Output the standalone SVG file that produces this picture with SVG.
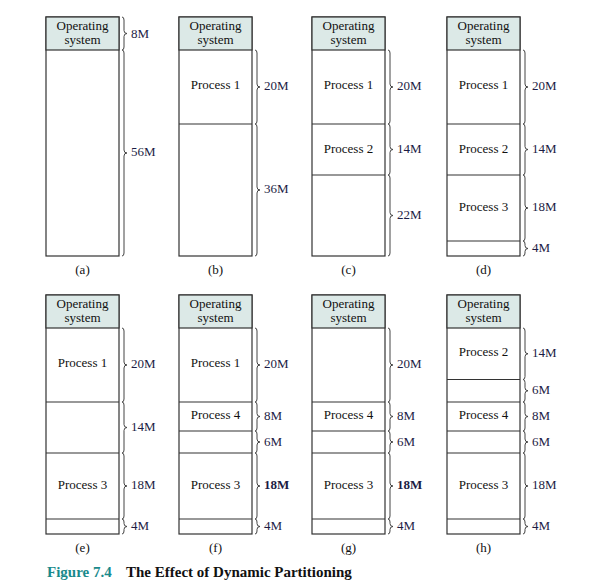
<svg xmlns="http://www.w3.org/2000/svg" width="609" height="588" viewBox="0 0 609 588">
<style>
.box{fill:#fff;stroke:#333;stroke-width:1.2}
.os{fill:#dce9e7;stroke:#333;stroke-width:1.2}
.div{stroke:#333;stroke-width:1.2}
.t{font-family:"Liberation Serif","Times New Roman",serif;font-size:13px;fill:#111;text-anchor:middle}
.lab{font-family:"Liberation Serif","Times New Roman",serif;font-size:13px;fill:#1c1c44}
.b{font-weight:bold}
.br{fill:none;stroke:#444;stroke-width:1}
.cap{font-family:"Liberation Serif","Times New Roman",serif;font-size:15px;font-weight:bold}
</style>
<rect width="609" height="588" fill="#fff"/>

<g id="panel-a">
<rect class="box" x="46" y="17" width="73" height="239"/>
<rect class="os" x="46" y="17" width="73" height="33"/>
<text class="t" x="82.5" y="30">Operating</text><text class="t" x="82.5" y="44">system</text>
<text class="t" x="82.5" y="274">(a)</text>
</g>
<g id="panel-b">
<rect class="box" x="179" y="17" width="73" height="239"/>
<rect class="os" x="179" y="17" width="73" height="33"/>
<text class="t" x="215.5" y="30">Operating</text><text class="t" x="215.5" y="44">system</text>
<line class="div" x1="179" y1="124" x2="252" y2="124"/>
<text class="t" x="215.5" y="89">Process 1</text>
<text class="t" x="215.5" y="274">(b)</text>
</g>
<g id="panel-c">
<rect class="box" x="312" y="17" width="73" height="239"/>
<rect class="os" x="312" y="17" width="73" height="33"/>
<text class="t" x="348.5" y="30">Operating</text><text class="t" x="348.5" y="44">system</text>
<line class="div" x1="312" y1="124" x2="385" y2="124"/>
<line class="div" x1="312" y1="175" x2="385" y2="175"/>
<text class="t" x="348.5" y="89">Process 1</text>
<text class="t" x="348.5" y="153">Process 2</text>
<text class="t" x="348.5" y="274">(c)</text>
</g>
<g id="panel-d">
<rect class="box" x="447" y="17" width="73" height="239"/>
<rect class="os" x="447" y="17" width="73" height="33"/>
<text class="t" x="483.5" y="30">Operating</text><text class="t" x="483.5" y="44">system</text>
<line class="div" x1="447" y1="124" x2="520" y2="124"/>
<line class="div" x1="447" y1="175" x2="520" y2="175"/>
<line class="div" x1="447" y1="241" x2="520" y2="241"/>
<text class="t" x="483.5" y="89">Process 1</text>
<text class="t" x="483.5" y="153">Process 2</text>
<text class="t" x="483.5" y="211">Process 3</text>
<text class="t" x="483.5" y="274">(d)</text>
</g>

<g id="panel-e">
<rect class="box" x="46" y="295" width="73" height="239"/>
<rect class="os" x="46" y="295" width="73" height="33"/>
<text class="t" x="82.5" y="308">Operating</text><text class="t" x="82.5" y="322">system</text>
<line class="div" x1="46" y1="402" x2="119" y2="402"/>
<line class="div" x1="46" y1="453" x2="119" y2="453"/>
<line class="div" x1="46" y1="519" x2="119" y2="519"/>
<text class="t" x="82.5" y="367">Process 1</text>
<text class="t" x="82.5" y="489">Process 3</text>
<text class="t" x="82.5" y="552">(e)</text>
</g>
<g id="panel-f">
<rect class="box" x="179" y="295" width="73" height="239"/>
<rect class="os" x="179" y="295" width="73" height="33"/>
<text class="t" x="215.5" y="308">Operating</text><text class="t" x="215.5" y="322">system</text>
<line class="div" x1="179" y1="402" x2="252" y2="402"/>
<line class="div" x1="179" y1="431" x2="252" y2="431"/>
<line class="div" x1="179" y1="453" x2="252" y2="453"/>
<line class="div" x1="179" y1="519" x2="252" y2="519"/>
<text class="t" x="215.5" y="367">Process 1</text>
<text class="t" x="215.5" y="419">Process 4</text>
<text class="t" x="215.5" y="489">Process 3</text>
<text class="t" x="215.5" y="552">(f)</text>
</g>
<g id="panel-g">
<rect class="box" x="312" y="295" width="73" height="239"/>
<rect class="os" x="312" y="295" width="73" height="33"/>
<text class="t" x="348.5" y="308">Operating</text><text class="t" x="348.5" y="322">system</text>
<line class="div" x1="312" y1="402" x2="385" y2="402"/>
<line class="div" x1="312" y1="431" x2="385" y2="431"/>
<line class="div" x1="312" y1="453" x2="385" y2="453"/>
<line class="div" x1="312" y1="519" x2="385" y2="519"/>
<text class="t" x="348.5" y="419">Process 4</text>
<text class="t" x="348.5" y="489">Process 3</text>
<text class="t" x="348.5" y="552">(g)</text>
</g>
<g id="panel-h">
<rect class="box" x="447" y="295" width="73" height="239"/>
<rect class="os" x="447" y="295" width="73" height="33"/>
<text class="t" x="483.5" y="308">Operating</text><text class="t" x="483.5" y="322">system</text>
<line class="div" x1="447" y1="379.5" x2="520" y2="379.5"/>
<line class="div" x1="447" y1="402" x2="520" y2="402"/>
<line class="div" x1="447" y1="431" x2="520" y2="431"/>
<line class="div" x1="447" y1="453" x2="520" y2="453"/>
<line class="div" x1="447" y1="519" x2="520" y2="519"/>
<text class="t" x="483.5" y="356">Process 2</text>
<text class="t" x="483.5" y="419">Process 4</text>
<text class="t" x="483.5" y="489">Process 3</text>
<text class="t" x="483.5" y="552">(h)</text>
</g>

<g id="braces" class="br">
<path d="M122 17q2 0 2 3V30.5q0 3 3 3q-3 0-3 3V47q0 3-2 3"/>
<path d="M122 50q2 0 2 3V150q0 3 3 3q-3 0-3 3V253q0 3-2 3"/>
<path d="M255 50q2 0 2 3V84q0 3 3 3q-3 0-3 3V121q0 3-2 3"/>
<path d="M255 124q2 0 2 3V187q0 3 3 3q-3 0-3 3V253q0 3-2 3"/>
<path d="M388 50q2 0 2 3V84q0 3 3 3q-3 0-3 3V121q0 3-2 3"/>
<path d="M388 124q2 0 2 3V146.5q0 3 3 3q-3 0-3 3V172q0 3-2 3"/>
<path d="M388 175q2 0 2 3V212.5q0 3 3 3q-3 0-3 3V253q0 3-2 3"/>
<path d="M523 50q2 0 2 3V84q0 3 3 3q-3 0-3 3V121q0 3-2 3"/>
<path d="M523 124q2 0 2 3V146.5q0 3 3 3q-3 0-3 3V172q0 3-2 3"/>
<path d="M523 175q2 0 2 3V205q0 3 3 3q-3 0-3 3V238q0 3-2 3"/>
<path d="M523 241q2 0 2 3V245.5q0 3 3 3q-3 0-3 3V253q0 3-2 3"/>

<path d="M122 328q2 0 2 3V362q0 3 3 3q-3 0-3 3V399q0 3-2 3"/>
<path d="M122 402q2 0 2 3V424.5q0 3 3 3q-3 0-3 3V450q0 3-2 3"/>
<path d="M122 453q2 0 2 3V483q0 3 3 3q-3 0-3 3V516q0 3-2 3"/>
<path d="M122 519q2 0 2 3V523.5q0 3 3 3q-3 0-3 3V531q0 3-2 3"/>

<path d="M255 328q2 0 2 3V362q0 3 3 3q-3 0-3 3V399q0 3-2 3"/>
<path d="M255 402q2 0 2 3V413.5q0 3 3 3q-3 0-3 3V428q0 3-2 3"/>
<path d="M255 431q2 0 2 3V439q0 3 3 3q-3 0-3 3V450q0 3-2 3"/>
<path d="M255 453q2 0 2 3V483q0 3 3 3q-3 0-3 3V516q0 3-2 3"/>
<path d="M255 519q2 0 2 3V523.5q0 3 3 3q-3 0-3 3V531q0 3-2 3"/>

<path d="M388 328q2 0 2 3V362q0 3 3 3q-3 0-3 3V399q0 3-2 3"/>
<path d="M388 402q2 0 2 3V413.5q0 3 3 3q-3 0-3 3V428q0 3-2 3"/>
<path d="M388 431q2 0 2 3V439q0 3 3 3q-3 0-3 3V450q0 3-2 3"/>
<path d="M388 453q2 0 2 3V483q0 3 3 3q-3 0-3 3V516q0 3-2 3"/>
<path d="M388 519q2 0 2 3V523.5q0 3 3 3q-3 0-3 3V531q0 3-2 3"/>

<path d="M523 328q2 0 2 3V350.75q0 3 3 3q-3 0-3 3V376.5q0 3-2 3"/>
<path d="M523 379.5q2 0 2 3V387.75q0 3 3 3q-3 0-3 3V399q0 3-2 3"/>
<path d="M523 402q2 0 2 3V413.5q0 3 3 3q-3 0-3 3V428q0 3-2 3"/>
<path d="M523 431q2 0 2 3V439q0 3 3 3q-3 0-3 3V450q0 3-2 3"/>
<path d="M523 453q2 0 2 3V483q0 3 3 3q-3 0-3 3V516q0 3-2 3"/>
<path d="M523 519q2 0 2 3V523.5q0 3 3 3q-3 0-3 3V531q0 3-2 3"/>
</g>

<g id="size-labels">
<text class="lab" x="131" y="38">8M</text>
<text class="lab" x="131" y="156">56M</text>
<text class="lab" x="264" y="89.5">20M</text>
<text class="lab" x="264" y="193">36M</text>
<text class="lab" x="397" y="89.5">20M</text>
<text class="lab" x="397" y="152.5">14M</text>
<text class="lab" x="397" y="218.5">22M</text>
<text class="lab" x="532" y="89.5">20M</text>
<text class="lab" x="532" y="152.5">14M</text>
<text class="lab" x="532" y="211">18M</text>
<text class="lab" x="532" y="252">4M</text>

<text class="lab" x="131" y="367.5">20M</text>
<text class="lab" x="131" y="430.5">14M</text>
<text class="lab" x="131" y="489">18M</text>
<text class="lab" x="131" y="530">4M</text>

<text class="lab" x="264" y="367.5">20M</text>
<text class="lab" x="264" y="420">8M</text>
<text class="lab" x="264" y="445.5">6M</text>
<text class="lab b" x="264" y="489">18M</text>
<text class="lab" x="264" y="530">4M</text>

<text class="lab" x="397" y="367.5">20M</text>
<text class="lab" x="397" y="420">8M</text>
<text class="lab" x="397" y="445.5">6M</text>
<text class="lab b" x="397" y="489">18M</text>
<text class="lab" x="397" y="530">4M</text>

<text class="lab" x="532" y="356.5">14M</text>
<text class="lab" x="532" y="394">6M</text>
<text class="lab" x="532" y="420">8M</text>
<text class="lab" x="532" y="445.5">6M</text>
<text class="lab" x="532" y="489">18M</text>
<text class="lab" x="532" y="530">4M</text>
</g>

<text class="cap" x="47" y="577"><tspan fill="#1a8a8c">Figure 7.4</tspan><tspan fill="#111" x="126">The Effect of Dynamic Partitioning</tspan></text>
</svg>
